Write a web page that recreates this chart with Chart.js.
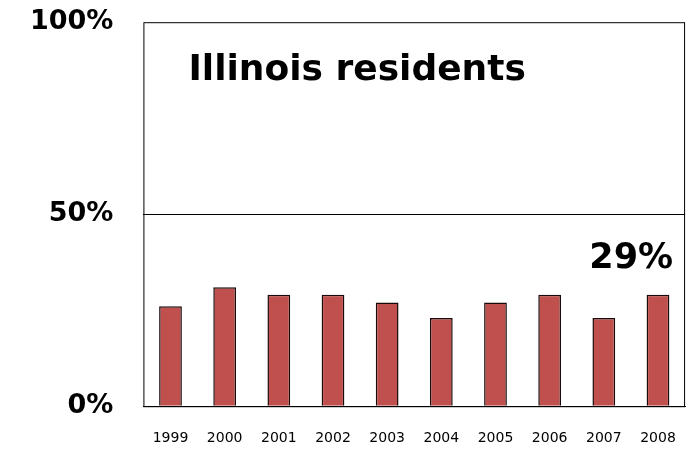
<!DOCTYPE html>
<html>
<head>
<meta charset="utf-8">
<script src="https://cdn.jsdelivr.net/npm/chart.js@4/dist/chart.umd.min.js"></script>
<style>
body{margin:0;background:#fff;overflow:hidden}
canvas{display:block;margin-top:-24px}
</style>
</head>
<body>
<canvas id="c" width="692" height="487"></canvas>
<script>
const years = ["1999","2000","2001","2002","2003","2004","2005","2006","2007","2008"]
const shares = [26,31,29,29,27,23,27,29,23,29]
const yTicks = [0,50,100]
const titleText = "Illinois residents"
const lastLabel = "29%"

const boxPlugin = {
id:"box",
afterDraw(chart){
const a = chart.chartArea
const c = chart.ctx
c.save()
c.strokeStyle = "#000"
c.lineWidth = 1
c.strokeRect(a.left+0.5,a.top+0.5,a.right-a.left-1,a.bottom-a.top)
c.fillStyle = "#000"
c.font = "bold 36px 'DejaVu Sans', sans-serif"
c.textBaseline = "alphabetic"
c.textAlign = "left"
c.fillText(titleText,a.left+45,a.top+58)
c.font = "bold 35px 'DejaVu Sans', sans-serif"
c.textAlign = "right"
c.fillText(lastLabel,a.right-12,chart.scales.y.getPixelForValue(36))
c.restore()
}
}

new Chart(document.getElementById("c"),{
type:"bar",
data:{
labels:years,
datasets:[{
data:shares,
backgroundColor:"#C0504D",
borderColor:"#1a0a0a",
borderWidth:1.5,
categoryPercentage:1,
barPercentage:0.42
}]
},
options:{
responsive:false,
animation:false,
layout:{padding:{top:0,right:4,left:0,bottom:0}},
plugins:{legend:{display:false},tooltip:{enabled:false}},
scales:{
x:{
grid:{display:false},
border:{color:"#000"},
ticks:{color:"#000",font:{size:14,family:"'DejaVu Sans', sans-serif"},padding:16}
},
y:{
min:0,max:100,
afterBuildTicks(axis){axis.ticks = yTicks.map(v=>({value:v}))},
grid:{color:ctx=>ctx.tick && ctx.tick.value===50 ? "#000" : "rgba(0,0,0,0)",drawTicks:false},
border:{display:false},
ticks:{color:"#000",padding:30,font:{size:27,weight:"bold",family:"'DejaVu Sans', sans-serif"},callback:v=>v+"%"}
}
}
},
plugins:[boxPlugin]
})
</script>
</body>
</html>
